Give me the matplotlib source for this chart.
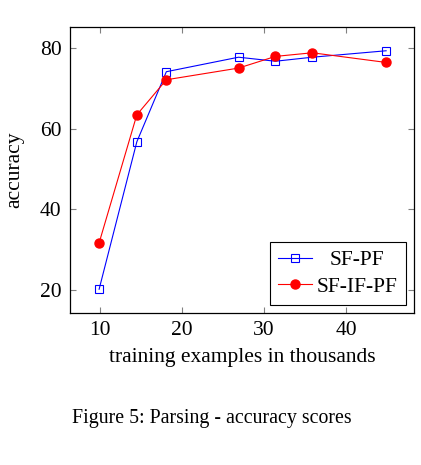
import matplotlib
matplotlib.use("Agg")
import matplotlib.pyplot as plt

plt.rcParams["font.family"] = ["Liberation Serif", "DejaVu Serif"]

# training examples (thousands)
examples = [9.9, 14.5, 18.1, 26.9, 31.4, 35.9, 44.9]
sf_pf = [20.2, 56.8, 74.2, 77.8, 76.8, 77.8, 79.4]
sf_if_pf = [31.7, 63.5, 72.2, 75.1, 78.0, 78.9, 76.5]

fig = plt.figure(figsize=(4.21, 4.65), dpi=100)
ax = fig.add_axes([70 / 421, 1 - 313 / 465, 344 / 421, 286 / 465])

ax.plot(examples, sf_pf, color="blue", lw=0.8, marker="s", ms=6,
        mfc="none", mec="blue", mew=0.8, label="SF-PF")
ax.plot(examples, sf_if_pf, color="red", lw=0.8, marker="o", ms=6.5,
        mfc="red", mec="red", label="SF-IF-PF")

ax.set_xlim(6.35, 48.3)
ax.set_ylim(14.3, 85.3)
ax.set_xticks([10, 20, 30, 40])
ax.set_yticks([20, 40, 60, 80])
ax.tick_params(direction="in", top=True, right=True, length=4,
               color="0.5", labelsize=15.5)
ax.tick_params(axis="x", pad=6)
ax.tick_params(axis="y", pad=6)
for s in ax.spines.values():
    s.set_linewidth(0.9)

ax.set_xlabel("training examples in thousands", fontsize=15.5)
ax.set_ylabel("accuracy", fontsize=15.5)
ax.xaxis.set_label_coords(0.5, -0.122)
ax.yaxis.set_label_coords(-0.134, 0.5)

leg = ax.legend(loc="lower right", fontsize=15.5, fancybox=False,
                edgecolor="black", framealpha=1, borderpad=0.4,
                handlelength=1.55, handletextpad=0.25, labelspacing=0.3,
                borderaxespad=0.35)
leg.get_frame().set_linewidth(0.8)

# centre the shorter legend entry like pgfplots does
fig.canvas.draw()
r = fig.canvas.get_renderer()
w0 = leg.texts[0].get_window_extent(r).width
w1 = leg.texts[1].get_window_extent(r).width
leg.texts[0].set_x((w1 - w0) / 2)

fig.text(72 / 421, 1 - 418 / 465, "Figure 5: Parsing - accuracy scores",
         fontsize=14.3, va="center", ha="left")

fig.savefig("out.png", dpi=100)
